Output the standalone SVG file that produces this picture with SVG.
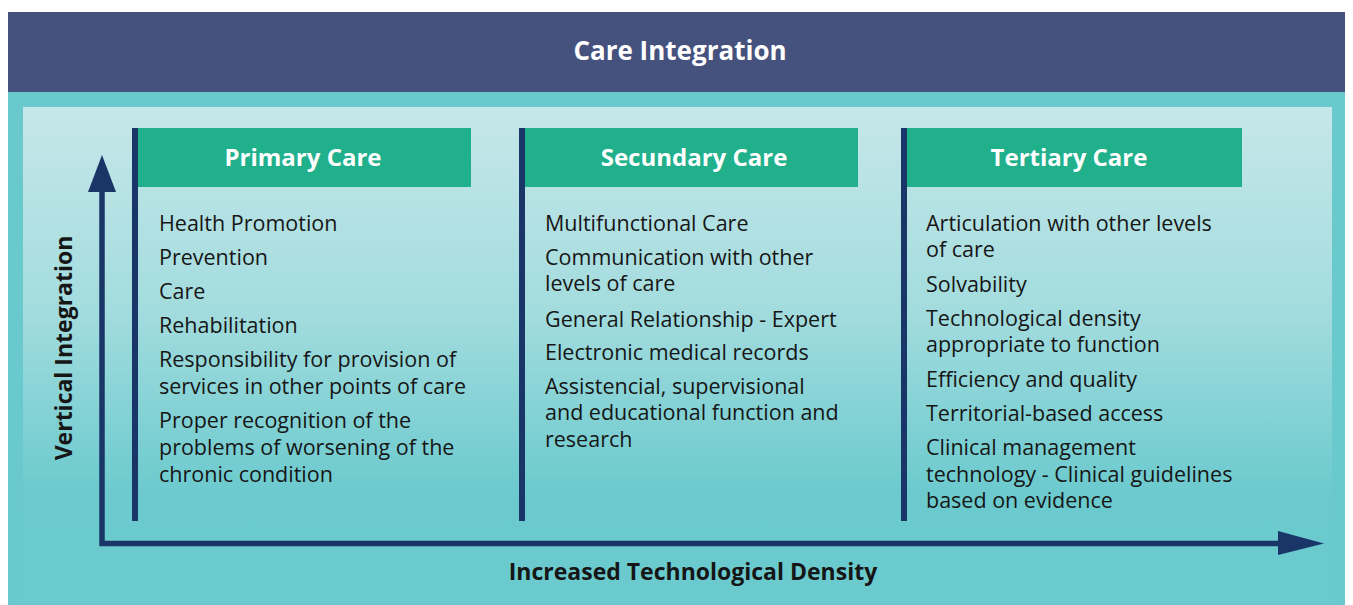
<svg xmlns="http://www.w3.org/2000/svg" width="1353" height="605" viewBox="0 0 1353 605">
<defs>
<linearGradient id="panelGrad" gradientUnits="userSpaceOnUse" x1="0" y1="107" x2="0" y2="560">
<stop offset="0" stop-color="#C6E7E9"/>
<stop offset="0.45" stop-color="#A3DCDE"/>
<stop offset="0.85" stop-color="#6CCACE"/>
<stop offset="1" stop-color="#6ACACD"/>
</linearGradient>
<style>
.hdr{fill:#21B08C}
.bar{fill:#1A3668}
.htxt{font-family:"Open Sans","Noto Sans",sans-serif;font-weight:bold;font-size:24px;fill:#FFFFFF;text-anchor:middle}
.item{font-family:"Open Sans","Noto Sans",sans-serif;font-size:21.5px;fill:#161616}
.axis{font-family:"Open Sans","Noto Sans",sans-serif;font-weight:bold;font-size:23px;fill:#161616;text-anchor:middle}
.conn{stroke:#1A3668;stroke-width:5.5;fill:none}
.head{fill:#1A3668}
</style>
</defs>
<rect x="8" y="12" width="1337" height="593" fill="#69C9CD"/>
<rect x="8" y="12" width="1337" height="80" fill="#46527E"/>
<text x="680" y="60" font-family="'Open Sans','Noto Sans',sans-serif" font-weight="bold" font-size="26px" fill="#FFFFFF" text-anchor="middle">Care Integration</text>
<rect x="23" y="107" width="1309" height="498" fill="url(#panelGrad)"/>

<g id="connectors">
<path class="conn" d="M102,190 V543.5 H1282"/>
<polygon class="head" points="102,155 116,192 88,192"/>
<polygon class="head" points="1324,543.5 1278,531 1278,555"/>
</g>

<g id="primary">
<rect class="bar" x="132" y="128" width="6" height="393"/>
<rect class="hdr" x="138" y="128" width="333" height="59"/>
<text class="htxt" x="303" y="166">Primary Care</text>
<text class="item" x="159" y="231">Health Promotion</text>
<text class="item" x="159" y="265">Prevention</text>
<text class="item" x="159" y="299">Care</text>
<text class="item" x="159" y="333">Rehabilitation</text>
<text class="item" x="159" y="367">Responsibility for provision of</text>
<text class="item" x="159" y="394">services in other points of care</text>
<text class="item" x="159" y="428">Proper recognition of the</text>
<text class="item" x="159" y="455">problems of worsening of the</text>
<text class="item" x="159" y="482">chronic condition</text>
</g>

<g id="secondary">
<rect class="bar" x="519" y="128" width="6" height="393"/>
<rect class="hdr" x="525" y="128" width="333" height="59"/>
<text class="htxt" x="694" y="166">Secundary Care</text>
<text class="item" x="545" y="231">Multifunctional Care</text>
<text class="item" x="545" y="265">Communication with other</text>
<text class="item" x="545" y="291">levels of care</text>
<text class="item" x="545" y="327">General Relationship - Expert</text>
<text class="item" x="545" y="360">Electronic medical records</text>
<text class="item" x="545" y="394">Assistencial, supervisional</text>
<text class="item" x="545" y="420">and educational function and</text>
<text class="item" x="545" y="447">research</text>
</g>

<g id="tertiary">
<rect class="bar" x="901" y="128" width="6" height="393"/>
<rect class="hdr" x="907" y="128" width="335" height="59"/>
<text class="htxt" x="1069" y="166">Tertiary Care</text>
<text class="item" x="926" y="231">Articulation with other levels</text>
<text class="item" x="926" y="257">of care</text>
<text class="item" x="926" y="292">Solvability</text>
<text class="item" x="926" y="326">Technological density</text>
<text class="item" x="926" y="352">appropriate to function</text>
<text class="item" x="926" y="387">Efficiency and quality</text>
<text class="item" x="926" y="421">Territorial-based access</text>
<text class="item" x="926" y="455">Clinical management</text>
<text class="item" x="926" y="482">technology - Clinical guidelines</text>
<text class="item" x="926" y="508">based on evidence</text>
</g>

<g id="axis-labels">
<text class="axis" transform="translate(72,348) rotate(-90)">Vertical Integration</text>
<text class="axis" x="693" y="580">Increased Technological Density</text>
</g>
</svg>
